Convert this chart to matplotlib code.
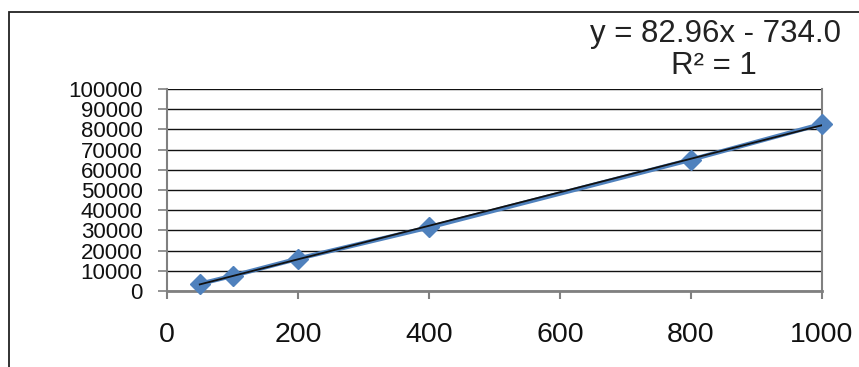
import matplotlib
matplotlib.use('Agg')
import numpy as np
import matplotlib.pyplot as plt
from matplotlib.patches import Rectangle

# data
x_vals = [50, 100, 200, 400, 800, 1000]
y_vals = [3500, 7500, 16000, 31500, 65000, 82700]
x_ticks = [0, 200, 400, 600, 800, 1000]
y_ticks = list(range(0, 100001, 10000))
eq_text = "y = 82.96x - 734.0"
r2_text = "R² = 1"

plt.rcParams['font.family'] = ['Liberation Sans', 'DejaVu Sans']

W, H = 859, 367
fig = plt.figure(figsize=(W / 100, H / 100), dpi=100)
fig.patch.set_facecolor('white')

# outer chart frame (right and bottom edges fall outside the picture)
fig.patches.append(Rectangle((9 / W, -0.2), 1.2, (1 - 12 / H) + 0.2,
                             transform=fig.transFigure, fill=False,
                             edgecolor='#222222', linewidth=1.3, zorder=-5))

ax = fig.add_axes([167 / W, 1 - 291 / H, (822 - 167) / W, (291 - 89) / H])
ax.set_facecolor('none')

# linear trendline
k, b = np.polyfit(x_vals, y_vals, 1)
xt = np.array([min(x_vals), max(x_vals)])
ax.plot(x_vals, y_vals, color='#4F81BD', linewidth=3.2, marker='D',
        markersize=10.5, markeredgecolor='#4F81BD', zorder=3, clip_on=False)
ax.plot(xt, k * xt + b, color='#111111', linewidth=1.3, zorder=4)

ax.set_xlim(0, 1000)
ax.set_ylim(0, 100000)
ax.set_xticks(x_ticks)
ax.set_yticks(y_ticks)
ax.yaxis.grid(True, color='#111111', linewidth=1)
ax.set_axisbelow(True)

for s in ax.spines.values():
    s.set_color('#808080')
ax.spines['left'].set_linewidth(1.5)
ax.spines['bottom'].set_linewidth(2)
ax.spines['right'].set_linewidth(1.5)
ax.spines['top'].set_visible(False)

ax.tick_params(axis='y', direction='out', length=6.5, width=1.2, color='#808080',
               labelsize=16, labelcolor='#111111', pad=11)
ax.tick_params(axis='x', direction='out', length=6, width=1.5, color='#808080',
               labelsize=20.5, labelcolor='#111111', pad=16)

fig.text(716 / W, 1 - 34 / H, eq_text, ha='center', va='center', fontsize=22.5,
         color='#222222')
fig.text(714 / W, 1 - 66 / H, r2_text, ha='center', va='center', fontsize=22.5,
         color='#222222')

fig.savefig('out.png', dpi=100)
